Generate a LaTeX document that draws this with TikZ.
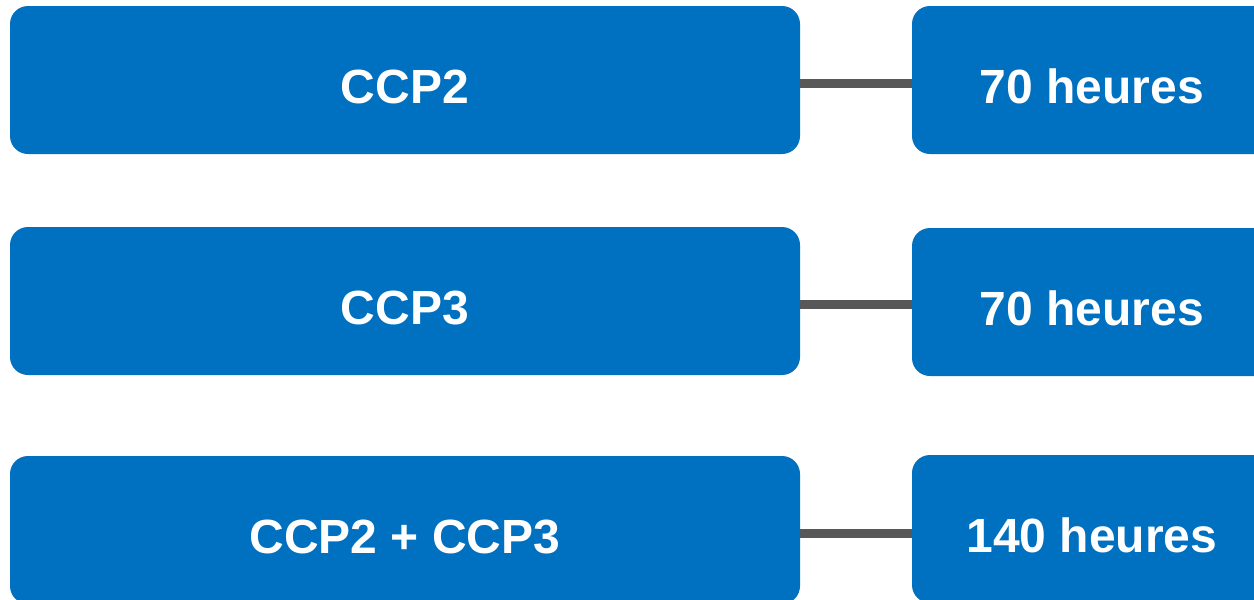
\documentclass[tikz,border=0pt]{standalone}
\usepackage{fontspec}
\setmainfont{Liberation Sans}
\definecolor{ccpblue}{HTML}{0070C0}
\definecolor{lienGris}{HTML}{585858}
\tikzset{
	bloc/.style={fill=ccpblue,draw=none,rounded corners=18pt,text=white,
		font=\bfseries\fontsize{48}{58}\selectfont,text height=47pt,text depth=0pt,
		inner sep=0pt,minimum height=148pt},
	ccp/.style={bloc,minimum width=790pt},
	duree/.style={bloc,minimum width=360pt},
	lien/.style={line width=9.5pt,lienGris}
}
\begin{document}
\begin{tikzpicture}[x=1pt,y=-1pt]
		\useasboundingbox (0,0) rectangle (1254,600);
		\clip (0,0) rectangle (1254,600);
		\node[ccp] (ccpa) at (405,80) {CCP2};
		\node[ccp] (ccpb) at (405,301) {CCP3};
		\node[ccp] (ccpab) at (405,530) {CCP2 + CCP3};
		\node[duree] (ha) at (1092,80) {70 heures};
		\node[duree] (hb) at (1092,302) {70 heures};
		\node[duree] (hab) at (1092,529) {140 heures};
		\foreach \g/\d in {ccpa/ha,ccpb/hb,ccpab/hab}
			\draw[lien] ([yshift=-3.5pt]\g.east)--([yshift=-3.5pt]\g.east -| \d.west);
\end{tikzpicture}
\end{document}
